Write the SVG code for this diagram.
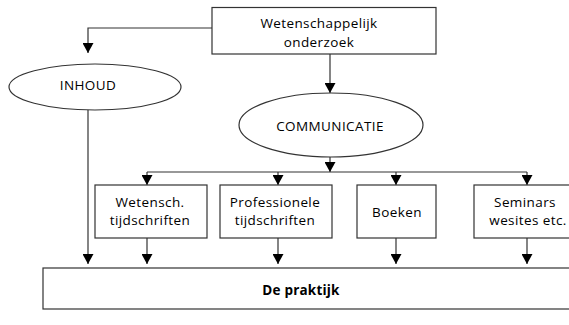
<svg xmlns="http://www.w3.org/2000/svg" width="569" height="325" viewBox="0 0 569 325">
<style>
.n{fill:#fff;stroke:#333;stroke-width:1.2}
.t{font-family:"Open Sans","Noto Sans",sans-serif;font-size:13.5px;letter-spacing:0.4px;fill:#000;text-anchor:middle}
.b{font-weight:bold;letter-spacing:0.2px}
.c{fill:none;stroke:#333;stroke-width:1.2}
</style>
<defs>
<marker id="a" viewBox="0 0 10 11" refX="10" refY="5.5" markerWidth="11" markerHeight="11" markerUnits="userSpaceOnUse" orient="auto">
<path d="M0,0L10,5.5L0,11Z" fill="#000"/>
</marker>
</defs>
<rect width="569" height="325" fill="#fff"/>
<g id="connectors">
<path class="c" d="M212,28H88V53" marker-end="url(#a)"/>
<path class="c" d="M88,110V264" marker-end="url(#a)"/>
<path class="c" d="M330,54V93" marker-end="url(#a)"/>
<path class="c" d="M330,157V172" marker-end="url(#a)"/>
<path class="c" d="M147,172H527"/>
<path class="c" d="M147,172V185" marker-end="url(#a)"/>
<path class="c" d="M278,172V185" marker-end="url(#a)"/>
<path class="c" d="M396,172V185" marker-end="url(#a)"/>
<path class="c" d="M527,172V185" marker-end="url(#a)"/>
<path class="c" d="M147,238V264" marker-end="url(#a)"/>
<path class="c" d="M278,238V264" marker-end="url(#a)"/>
<path class="c" d="M396,238V264" marker-end="url(#a)"/>
<path class="c" d="M527,238V264" marker-end="url(#a)"/>
</g>
<g id="onderzoek">
<rect class="n" x="212" y="7.5" width="224" height="46.5"/>
<text class="t" x="319" y="28">Wetenschappelijk</text>
<text class="t" x="319" y="46.5">onderzoek</text>
</g>
<g id="inhoud">
<ellipse class="n" cx="95" cy="87" rx="86" ry="23"/>
<text class="t" x="88" y="89.5">INHOUD</text>
</g>
<g id="communicatie">
<ellipse class="n" cx="331" cy="125" rx="92" ry="32"/>
<text class="t" x="330" y="130.5">COMMUNICATIE</text>
</g>
<g id="wetensch">
<rect class="n" x="95" y="185" width="112" height="53"/>
<text class="t" x="150" y="206.5">Wetensch.</text>
<text class="t" x="150" y="225">tijdschriften</text>
</g>
<g id="professionele">
<rect class="n" x="220" y="185" width="112" height="53"/>
<text class="t" x="275" y="206.5">Professionele</text>
<text class="t" x="275" y="225">tijdschriften</text>
</g>
<g id="boeken">
<rect class="n" x="357" y="185" width="79" height="53"/>
<text class="t" x="397" y="217">Boeken</text>
</g>
<g id="seminars">
<rect class="n" x="474" y="185" width="110" height="53"/>
<text class="t" x="525" y="206.5">Seminars</text>
<text class="t" x="528" y="225">wesites etc.</text>
</g>
<g id="praktijk">
<rect class="n" x="43" y="268" width="540" height="41"/>
<text class="t b" x="301" y="295">De praktijk</text>
</g>
</svg>
